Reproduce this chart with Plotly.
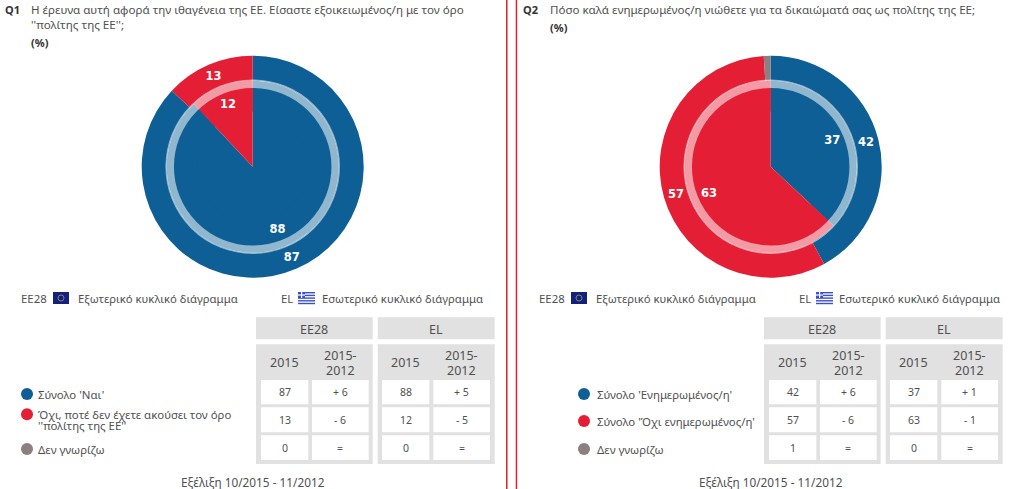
import plotly.graph_objects as go

W, H = 1024, 489
BLUE, RED, GREY = "#0d5f96", "#e41f35", "#8b7f82"
TXT = "#505050"
FONT = "Noto Sans"

categories = ["yes", "no", "dk"]
q1_outer = [87, 13, 0]
q1_inner = [88, 12, 0]
q2_outer = [42, 57, 1]
q2_inner = [37, 63, 0]

q1_title = ["Η έρευνα αυτή αφορά την ιθαγένεια της ΕΕ. Είσαστε εξοικειωμένος/η με τον όρο", "''πολίτης της ΕΕ'';"]
q2_title = ["Πόσο καλά ενημερωμένος/η νιώθετε για τα δικαιώματά σας ως πολίτης της ΕΕ;"]

q1_legend = [["Σύνολο 'Ναι'"], ["Όχι, ποτέ δεν έχετε ακούσει τον όρο", "''πολίτης της ΕΕ''"], ["Δεν γνωρίζω"]]
q2_legend = [["Σύνολο 'Ενημερωμένος/η'"], ["Σύνολο 'Όχι ενημερωμένος/η'"], ["Δεν γνωρίζω"]]

q1_table = [["87", "+ 6", "88", "+ 5"], ["13", "- 6", "12", "- 5"], ["0", "=", "0", "="]]
q2_table = [["42", "+ 6", "37", "+ 1"], ["57", "- 6", "63", "- 1"], ["1", "=", "0", "="]]

footer = "Εξέλιξη 10/2015 - 11/2012"


def px(x):
    return x / W


def py(y):
    return 1 - y / H


shapes, notes = [], []


def rect(x0, y0, x1, y1, color):
    shapes.append(dict(type="rect", xref="paper", yref="paper", x0=px(x0), x1=px(x1), y0=py(y0), y1=py(y1),
                       fillcolor=color, line_width=0, layer="below"))


def dot(cx, cy, r, color):
    shapes.append(dict(type="circle", xref="paper", yref="paper", x0=px(cx - r), x1=px(cx + r), y0=py(cy - r), y1=py(cy + r),
                       fillcolor=color, line_width=0, layer="below"))


def label(x, y, text, size=11.4, anchor="left", bold=False, color=TXT):
    notes.append(dict(x=px(x), y=py(y), xref="paper", yref="paper", text=text, showarrow=False, xanchor=anchor,
                      yanchor="middle", borderpad=0, align=anchor,
                      font=dict(family=FONT, size=size, color=color, weight="bold" if bold else "normal")))


def pie_domain(cx, cy, r):
    return dict(x=[px(cx - r), px(cx + r)], y=[py(cy + r), py(cy - r)])


def pie(values, cx, cy, r, hole=0, labelled=True):
    # slices under 5 % carry no number in the reference
    return go.Pie(labels=categories, values=values, sort=False, direction="clockwise", rotation=0, hole=hole,
                  domain=pie_domain(cx, cy, r), marker=dict(colors=[BLUE, RED, GREY], line_width=0),
                  text=[str(v) if labelled and v >= 5 else "" for v in values], textinfo="text",
                  textposition="inside", insidetextorientation="horizontal",
                  insidetextfont=dict(family="DejaVu Sans", size=11.5, color="white", weight="bold"),
                  showlegend=False, hoverinfo="skip")


def flag_eu(x, y):
    rect(x, y, x + 16, y + 12, "#14207f")
    shapes.append(dict(type="circle", xref="paper", yref="paper", x0=px(x + 5), x1=px(x + 11), y0=py(y + 3), y1=py(y + 9),
                       line=dict(color="#7f8a5a", width=1), layer="below"))


def flag_el(x, y):
    rect(x, y, x + 17, y + 12, "#ffffff")
    for i in range(5):
        rect(x, y + i * 2.7, x + 17, y + i * 2.7 + 1.4, "#3a4fd0")
    rect(x, y, x + 7, y + 6, "#3a4fd0")
    rect(x + 3, y, x + 4.2, y + 6, "#ffffff")
    rect(x, y + 2.4, x + 7, y + 3.6, "#ffffff")


def panel(dx, code, code_x, title, text_x, pct_y, out_vals, in_vals, legend, table, cx, dot_x, leg_x, row_y, o):
    label(code_x, 9, code, 11, bold=True, color="#333333")
    for i, line in enumerate(title):
        label(text_x, 9 + i * 15, line, 11.6)
    label(text_x, pct_y, "(%)", 11, bold=True, color="#333333")

    label(20 + o, 298, "ΕΕ28")
    flag_eu(53 + o, 292)
    label(76.5 + o, 298, "Εξωτερικό κυκλικό διάγραμμα", 11.3)
    label(280 + o, 298, "EL")
    flag_el(298 + o, 292)
    label(321 + o - (1 if dx else 0), 298, "Εσωτερικό κυκλικό διάγραμμα", 11.3)

    # table frames
    for gx0, gx1, name in [(256, 372.7, "ΕΕ28"), (377.7, 494.7, "EL")]:
        rect(dx + gx0, 317.3, dx + gx1, 339.3, "#e1e1e1")
        rect(dx + gx0, 344.3, dx + gx1, 464, "#e1e1e1")
        label(dx + (gx0 + gx1) / 2, 329, name, 12.5, anchor="center")
    cols = [(261, 308.3), (312, 368.7), (382, 429.3), (433.3, 490)]
    rows = [(380, 404.3), (407.3, 432.3), (435.3, 460)]
    for c, (x0, x1) in enumerate(cols):
        mid = dx + (x0 + x1) / 2
        if c % 2 == 0:
            label(mid, 362, "2015", 12.5, anchor="center")
        else:
            label(mid, 355, "2015-", 12.5, anchor="center")
            label(mid, 370.5, "2012", 12.5, anchor="center")
        for r, (y0, y1) in enumerate(rows):
            rect(dx + x0, y0, dx + x1, y1, "#ffffff")
            label(mid, (y0 + y1) / 2, table[r][c], 10.5, anchor="center")

    for (y, color, lines) in zip(row_y, [BLUE, RED, GREY], legend):
        dot(dot_x, y, 6, color)
        if len(lines) == 1:
            label(leg_x, y, lines[0])
        else:
            label(leg_x, y, lines[0])
            label(leg_x, y + 11.4, lines[1])

    label(cx, 481.5, footer, 11.8, anchor="center")

    # white ring sits on top of both pies
    shapes.append(dict(type="circle", xref="paper", yref="paper", x0=px(cx - 83), x1=px(cx + 83), y0=py(166.7 + 83), y1=py(166.7 - 83),
                       line=dict(color="rgba(255,255,255,0.55)", width=8.5), layer="above"))
    return [
        pie(out_vals, cx, 166.7, 111, hole=0.775),
        pie(in_vals, cx, 166.7, 86, labelled=False),
        pie(in_vals, cx, 166.7, 79, hole=0.7),
    ]


traces = panel(0, "Q1", 4, q1_title, 30, 42.5, q1_outer, q1_inner, q1_legend, q1_table, 252.7, 27, 37, [394, 414.3, 449], 0)
traces += panel(508, "Q2", 522, q2_title, 549, 27, q2_outer, q2_inner, q2_legend, q2_table, 770.7, 584, 596, [394, 421, 449], 518)

rect(506, 0, 507.5, H, "#d9222f")
rect(515.7, 0, 517.2, H, "#d9222f")

fig = go.Figure(data=traces)
fig.update_layout(width=W, height=H, margin=dict(l=0, r=0, t=0, b=0), paper_bgcolor="white", plot_bgcolor="white",
                  shapes=shapes, annotations=notes, font=dict(family=FONT))
# page margin would push the fixed-size plot off by 8px
fig.write_html("out.html", config={"displayModeBar": False}, post_script="document.body.style.margin='0';")
